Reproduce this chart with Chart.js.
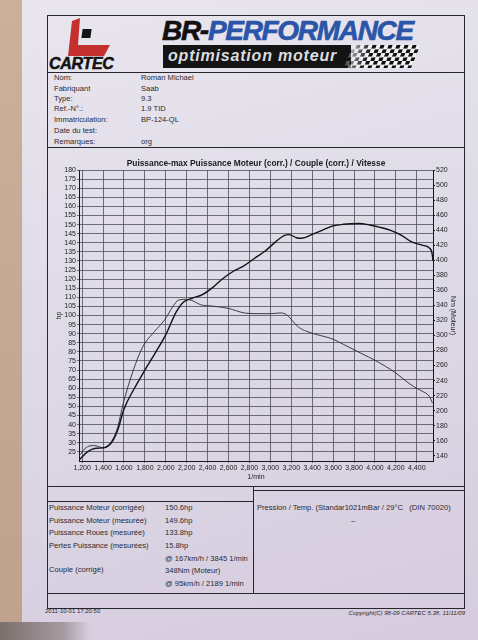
<!DOCTYPE html>
<html>
<head>
<meta charset="utf-8">
<script src="https://cdn.jsdelivr.net/npm/chart.js@4.4.1/dist/chart.umd.min.js"></script>
<style>
  html, body { margin: 0; padding: 0; }
  body {
    width: 478px; height: 640px; overflow: hidden; position: relative;
    background: linear-gradient(180deg, #cbb09a 0%, #bea28b 100%);
    font-family: "Liberation Sans", Arial, sans-serif;
  }
  #paper {
    position: absolute; left: 22px; top: 0; width: 456px; height: 640px;
    background: linear-gradient(165deg, #e9e6ef 0%, #dfdce8 40%, #d9d2e2 75%, #d6cbdf 100%);
  }
  #shadow {
    position: absolute; left: 0; top: 622px; width: 90px; height: 18px;
    background: linear-gradient(90deg, #7a706c, #a49aa0 70%, rgba(200,190,205,0));
  }
  .ln { position: absolute; background: #26262c; }
  .t { position: absolute; font-size: 7.6px; line-height: 10px; color: #2a2a32; white-space: nowrap; }
  #frame { position: absolute; left: 47px; top: 15px; width: 416px; height: 592px; border: 1px solid #26262c; }

  /* logo */
  #logoRed {
    position: absolute; left: 66px; top: 18px; width: 44px; height: 38px; background: #c4302e;
    clip-path: polygon(2px 38px, 6px 3px, 14px 0px, 12px 27px, 44px 27px, 38px 38px);
  }
  #logoSq { position: absolute; left: 82px; top: 29px; width: 9px; height: 9px; background: #141414; transform: skewX(-8deg); }
  #cartec {
    position: absolute; left: 49px; top: 55px; font-size: 16px; font-weight: bold; font-style: italic;
    color: #121212; letter-spacing: -0.3px; line-height: 18px; -webkit-text-stroke: 0.5px currentColor;
  }
  #brperf {
    position: absolute; left: 162px; top: 14px; font-size: 28px; font-weight: bold; font-style: italic;
    letter-spacing: -1.3px; line-height: 34px; color: #2a55a8; -webkit-text-stroke: 0.6px currentColor;
  }
  #brperf span { color: #111; }
  #banner { position: absolute; left: 163px; top: 45px; width: 188px; height: 23px; background: #141414; }
  #opti {
    position: absolute; left: 168px; top: 46px; font-size: 16px; font-weight: bold; font-style: italic;
    letter-spacing: 0.8px; color: #dcdce0; line-height: 20px;
  }
  #flag {
    position: absolute; left: 348px; top: 45px; width: 68px; height: 23px;
    background: conic-gradient(#111 25%, #f2f2f2 0 50%, #111 0 75%, #f2f2f2 0) 0 0 / 8px 8px;
    transform: skewX(-22deg);
    -webkit-mask-image: linear-gradient(90deg, rgba(0,0,0,0.25) 0%, #000 30%);
    mask-image: linear-gradient(90deg, rgba(0,0,0,0.25) 0%, #000 30%);
  }
  #chartBox { position: absolute; left: 48px; top: 148px; width: 416px; height: 338px; }
  .foot { position: absolute; font-size: 6px; color: #2a2a32; white-space: nowrap; }
</style>
</head>
<body>
<div id="paper"></div>
<div id="shadow"></div>
<div id="frame"></div>

<!-- header -->
<div id="logoRed"></div>
<div id="logoSq"></div>
<div id="cartec">CARTEC</div>
<div id="brperf"><span>BR-</span>PERFORMANCE</div>
<div id="banner"></div>
<div id="flag"></div>
<div id="opti">optimisation moteur</div>

<div class="ln" style="left:47px; top:72px; width:417px; height:1px;"></div>

<!-- vehicle info -->
<div class="t" style="left:54px; top:73px;">Nom:</div>
<div class="t" style="left:54px; top:84px;">Fabriquant</div>
<div class="t" style="left:54px; top:94px;">Type:</div>
<div class="t" style="left:54px; top:104px;">Ref.-N°.:</div>
<div class="t" style="left:54px; top:115px;">Immatriculation:</div>
<div class="t" style="left:54px; top:126px;">Date du test:</div>
<div class="t" style="left:54px; top:137px;">Remarques:</div>
<div class="t" style="left:141px; top:73px;">Roman Michael</div>
<div class="t" style="left:141px; top:84px;">Saab</div>
<div class="t" style="left:141px; top:94px;">9.3</div>
<div class="t" style="left:141px; top:104px;">1.9 TID</div>
<div class="t" style="left:141px; top:115px;">BP-124-QL</div>
<div class="t" style="left:141px; top:137px;">org</div>

<div class="ln" style="left:47px; top:147px; width:417px; height:1px;"></div>

<div id="chartBox"><canvas id="dyno"></canvas></div>

<!-- results table -->
<div class="ln" style="left:47px; top:486px; width:417px; height:1px;"></div>
<div class="ln" style="left:47px; top:501px; width:206px; height:1px;"></div>
<div class="ln" style="left:253px; top:490px; width:211px; height:1px;"></div>
<div class="ln" style="left:253px; top:486px; width:1px; height:107px;"></div>
<div class="ln" style="left:47px; top:593px; width:417px; height:1px;"></div>

<div class="t" style="left:49px; top:503px;">Puissance Moteur (corrigée)</div>
<div class="t" style="left:49px; top:516px;">Puissance Moteur (mesurée)</div>
<div class="t" style="left:49px; top:528px;">Puissance Roues (mesurée)</div>
<div class="t" style="left:49px; top:541px;">Pertes Puissance (mesurées)</div>
<div class="t" style="left:49px; top:565px;">Couple (corrigé)</div>
<div class="t" style="left:165px; top:503px;">150.6hp</div>
<div class="t" style="left:165px; top:516px;">149.6hp</div>
<div class="t" style="left:165px; top:528px;">133.8hp</div>
<div class="t" style="left:165px; top:541px;">15.8hp</div>
<div class="t" style="left:165px; top:554px;">@ 167km/h / 3845 1/min</div>
<div class="t" style="left:165px; top:566px;">348Nm (Moteur)</div>
<div class="t" style="left:165px; top:579px;">@ 95km/h / 2189 1/min</div>
<div class="t" style="left:257px; top:503px; white-space:pre;">Pression / Temp. (Standar1021mBar / 29°C   (DIN 70020)</div>
<div class="t" style="left:351px; top:516px;">–</div>

<div class="foot" style="left:45px; top:608px;">2011-10-01 17:20:50</div>
<div class="foot" style="right:13px; top:610px; font-style:italic;">Copyright(C) 98-09 CARTEC 5.38, 11/11/09</div>

<script>
// engine power (corrected), hp
const powerRpm = [1170, 1250, 1330, 1400, 1450, 1500, 1540, 1600, 1700, 1800, 1900, 2000, 2100, 2170, 2250,
                  2350, 2450, 2550, 2650, 2750, 2850, 2950, 3050, 3130, 3180, 3250, 3300, 3400, 3500, 3600,
                  3700, 3845, 3950, 4050, 4150, 4250, 4350, 4450, 4520, 4545, 4555];
const powerHp  = [20.5, 25, 27, 27.2, 28.3, 31.8, 37, 48.5, 60, 70, 79.5, 89.5, 102, 107.5, 109.5,
                  111.5, 115.5, 120.5, 124.5, 127.5, 131.5, 135.5, 140.5, 144, 144.5, 142.8, 142.5, 144.6, 147, 149.3,
                  150.2, 150.6, 149.8, 148.5, 146.8, 144.2, 140.5, 138.7, 137.2, 134.5, 130];

// torque (corrected), Nm
const torqueRpm = [1170, 1250, 1320, 1400, 1480, 1540, 1590, 1690, 1780, 1890, 1990, 2070, 2120, 2189, 2260,
                   2330, 2450, 2600, 2750, 2900, 3000, 3100, 3160, 3220, 3270, 3345, 3450, 3600, 3700, 3800,
                   3900, 4000, 4100, 4200, 4300, 4370, 4450, 4520, 4550];
const torqueNm  = [140, 152, 153.5, 150.5, 159, 178, 208, 254, 285, 305, 321, 339, 347, 348, 346,
                   341, 339, 336, 330, 329, 329, 330, 327, 318, 311, 305.5, 301, 295, 288, 281,
                   274, 267, 259, 250, 239, 232, 226, 219, 210];

const rpmTicks = [1200, 1400, 1600, 1800, 2000, 2200, 2400, 2600, 2800, 3000, 3200, 3400, 3600, 3800, 4000, 4200, 4400];
const hpTicks = [25, 30, 35, 40, 45, 50, 55, 60, 65, 70, 75, 80, 85, 90, 95, 100, 105, 110, 115, 120,
                 125, 130, 135, 140, 145, 150, 155, 160, 165, 170, 175, 180];
const nmTicks = [140, 160, 180, 200, 220, 240, 260, 280, 300, 320, 340, 360, 380, 400, 420, 440, 460, 480, 500, 520];

const toPoints = (xs, ys) => xs.map((x, i) => ({x: x, y: ys[i]}));
const tickFont = {family: 'Liberation Sans', size: 7};
const gridColor = '#4e4e5a';

const ctx = document.getElementById('dyno').getContext('2d');
const dynoChart = new Chart(ctx, {
    type: 'line',
    data: {
        datasets: [{
            label: 'Puissance Moteur (corr.)',
            data: toPoints(powerRpm, powerHp),
            yAxisID: 'hp',
            borderColor: '#121216',
            borderWidth: 1.4,
            pointRadius: 0,
            cubicInterpolationMode: 'monotone',
            fill: false
        }, {
            label: 'Couple (corr.)',
            data: toPoints(torqueRpm, torqueNm),
            yAxisID: 'nm',
            borderColor: '#2a2a30',
            borderWidth: 0.9,
            pointRadius: 0,
            cubicInterpolationMode: 'monotone',
            fill: false
        }]
    },
    options: {
        responsive: true,
        maintainAspectRatio: false,
        animation: false,
        layout: {padding: 0},
        plugins: {
            legend: {display: false},
            tooltip: {enabled: false},
            title: {
                display: true,
                text: 'Puissance-max Puissance Moteur (corr.) / Couple (corr.) / Vitesse',
                color: '#1a1a20',
                font: {family: 'Liberation Sans', size: 8.4, weight: 'bold'},
                padding: {top: 11, bottom: 1}
            }
        },
        scales: {
            x: {
                type: 'linear',
                min: 1170,
                max: 4555,
                afterBuildTicks: scale => { scale.ticks = rpmTicks.map(v => ({value: v})); },
                afterFit: scale => { scale.height = 25; },
                grid: {color: gridColor, lineWidth: 0.8, tickLength: 2},
                border: {color: '#15151a', width: 1},
                ticks: {
                    color: '#222', font: tickFont, padding: 1, maxRotation: 0, autoSkip: false,
                    callback: v => v.toLocaleString('en-US')
                },
                title: {display: true, text: '1/min', color: '#222', font: tickFont, padding: {top: 0, bottom: 5}}
            },
            hp: {
                type: 'linear',
                position: 'left',
                min: 20,
                max: 180,
                afterBuildTicks: scale => { scale.ticks = hpTicks.map(v => ({value: v})); },
                afterFit: scale => { scale.width = 31; },
                grid: {color: gridColor, lineWidth: 0.8, tickLength: 2},
                border: {color: '#15151a', width: 1},
                ticks: {color: '#222', font: tickFont, padding: 1, autoSkip: false},
                title: {display: true, text: 'hp', color: '#222', font: tickFont, padding: {top: 7, bottom: 0}}
            },
            nm: {
                type: 'linear',
                position: 'right',
                min: 133,
                max: 520,
                afterBuildTicks: scale => { scale.ticks = nmTicks.map(v => ({value: v})); },
                afterFit: scale => { scale.width = 31; },
                grid: {drawOnChartArea: false, color: '#15151a', tickLength: 2},
                border: {color: '#15151a', width: 1},
                ticks: {color: '#222', font: tickFont, padding: 1, autoSkip: false},
                title: {display: true, text: 'Nm (Moteur)', color: '#222', font: tickFont, padding: {top: 7, bottom: 0}}
            }
        }
    }
});
</script>
</body>
</html>
